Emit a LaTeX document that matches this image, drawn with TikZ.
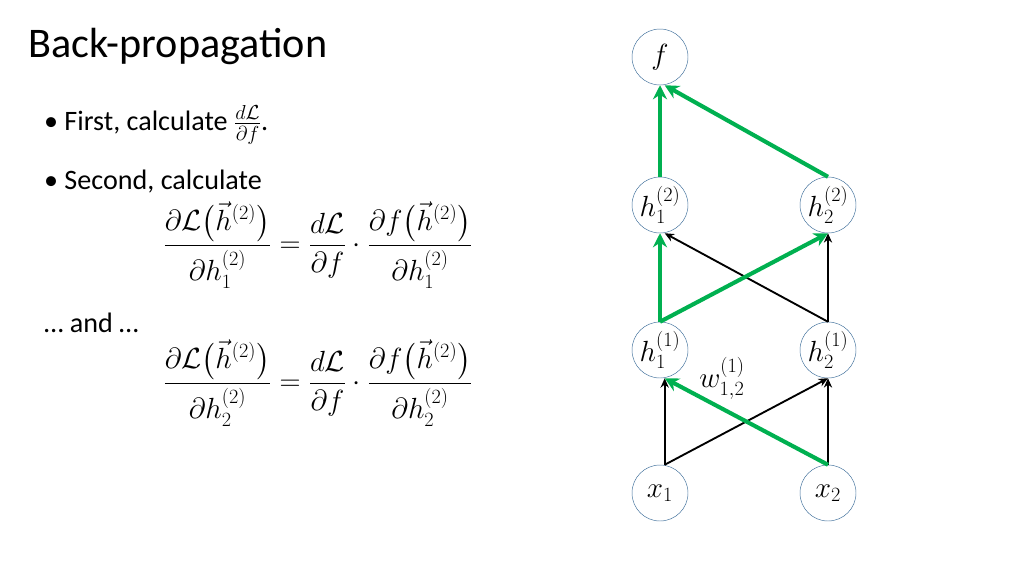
\documentclass[tikz,border=0pt]{standalone}
\usepackage{amsmath,amssymb}
\usepackage{fontspec}
\setmainfont{Carlito}
\usetikzlibrary{positioning}
\usetikzlibrary{arrows.meta}
\definecolor{nodeline}{HTML}{41719C}
\definecolor{backgreen}{HTML}{00B050}
\tikzset{
	neuron/.style={circle,draw=nodeline,thin,fill=white,minimum size=56*0.03cm,inner sep=0pt,font=\fontsize{25}{30}\selectfont},
	fwd/.style={-{Stealth[length=8pt,width=7pt]},line width=1.6pt},
	bwd/.style={-{Stealth[length=12pt,width=12pt]},backgreen,line width=3.5pt}
}
\begin{document}
\begin{tikzpicture}[x=0.03cm,y=-0.03cm]
	\useasboundingbox (0,0) rectangle (1024,576);
	\node[neuron] (F)  at (660,57)  {$f$};
	\node[neuron] (H12) at (660,205) {$h_1^{(2)}$};
	\node[neuron] (H22) at (828,205) {$h_2^{(2)}$};
	\node[neuron] (H11) at (660,350) {$h_1^{(1)}$};
	\node[neuron] (H21) at (828,350) {$h_2^{(1)}$};
	\node[neuron] (X1) at (660,493) {$x_1$};
	\node[neuron] (X2) at (828,493) {$x_2$};
	% forward connections
	\draw[fwd] ([xshift=4pt]X1.north) -- ([xshift=4pt]H11.south);
	\draw[fwd] ([xshift=4pt]X1.north) -- (H21.south);
	\draw[fwd] (X2.north) -- (H21.south);
	\draw[fwd] (H21.north) -- ([xshift=4pt]H12.south);
	\draw[fwd] (H21.north) -- (H22.south);
	% backward path
	\draw[bwd] (X2.north) -- ([xshift=4pt]H11.south);
	\draw[bwd] (H11.north) -- (H12.south);
	\draw[bwd] (H11.north) -- (H22.south);
	\draw[bwd] (H12.north) -- (F.south);
	\draw[bwd] (H22.north) -- ([xshift=4pt]F.south);
	\node[font=\fontsize{25}{30}\selectfont] (W) at (722,378) {$w_{1,2}^{(1)}$};
	% text
	\node[anchor=west,font=\fontsize{36}{42}\selectfont] (T) at (24,46) {Back-propagation};
	\node[anchor=west,font=\fontsize{24}{28}\selectfont] (B1) at (40,125) {\textbullet\ First, calculate $\frac{d\mathcal{L}}{\partial f}$.};
	\node[anchor=west,font=\fontsize{24}{28}\selectfont] (B2) at (40,182) {\textbullet\ Second, calculate};
	\node[font=\fontsize{26}{30}\selectfont] (E1) at (318,245) {$\dfrac{\partial\mathcal{L}\bigl(\vec{h}^{(2)}\bigr)}{\partial h_1^{(2)}}=\dfrac{d\mathcal{L}}{\partial f}\cdot\dfrac{\partial f\bigl(\vec{h}^{(2)}\bigr)}{\partial h_1^{(2)}}$};
	\node[anchor=west,font=\fontsize{24}{28}\selectfont] (A) at (40,323) {\dots\ and \dots};
	\node[font=\fontsize{26}{30}\selectfont] (E2) at (318,383) {$\dfrac{\partial\mathcal{L}\bigl(\vec{h}^{(2)}\bigr)}{\partial h_2^{(2)}}=\dfrac{d\mathcal{L}}{\partial f}\cdot\dfrac{\partial f\bigl(\vec{h}^{(2)}\bigr)}{\partial h_2^{(2)}}$};
\end{tikzpicture}
\end{document}
